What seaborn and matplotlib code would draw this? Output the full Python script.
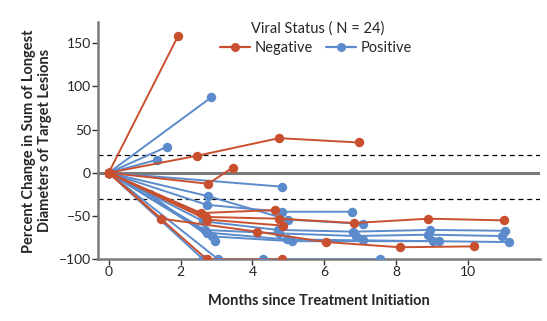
import matplotlib
matplotlib.use("Agg")
import matplotlib.pyplot as plt
from matplotlib.lines import Line2D
import numpy as np
import pandas as pd
import seaborn as sns

# Per-patient trajectories: months since treatment initiation and percent change
negative_months = [
    [0, 1.93],
    [0, 2.45, 4.74, 6.96],
    [0, 2.77, 3.45],
    [0, 1.46, 4.13, 6.04, 8.10, 10.18],
    [0, 2.73, 4.81],
    [0, 2.57, 4.63],
    [0, 2.71, 4.74, 6.83, 8.90, 11.01],
    [0, 2.73, 4.84],
]
negative_change = [
    [0, 158],
    [0, 19.6, 40, 35],
    [0, -12.7, 6],
    [0, -53, -68, -80, -86, -85],
    [0, -100, -100],
    [0, -46.5, -43],
    [0, -51, -53, -58, -53, -55],
    [0, -54, -61],
]

positive_months = [
    [0, 2.85],
    [0, 1.62],
    [0, 1.34],
    [0, 4.81],
    [0, 2.77, 4.98, 7.08],
    [0, 2.73, 4.81, 6.76],
    [0, 2.63, 4.72, 6.80, 8.95, 11.04],
    [0, 2.68, 4.75, 6.88, 8.88, 10.95],
    [0, 2.73, 4.95, 7.08, 9.02, 11.15],
    [0, 2.87, 5.09, 9.20],
    [0, 1.15, 2.96],
    [0, 3.05, 4.30, 7.54],
    [0, 2.63],
]
positive_change = [
    [0, 87],
    [0, 30],
    [0, 15],
    [0, -16],
    [0, -27, -54, -59],
    [0, -37, -45, -45],
    [0, -56, -66, -68, -66, -67],
    [0, -66, -70, -73, -71.5, -73],
    [0, -69, -77, -78, -79, -80],
    [0, -73.5, -79, -79],
    [0, -25, -79],
    [0, -100, -100, -100],
    [0, -100],
]

status_labels = ["Negative", "Positive"]
palette = {"Negative": "#c9502f", "Positive": "#5b8bcb"}

rows = []
pid = 0
for status, months, changes in [("Positive", positive_months, positive_change),
                                ("Negative", negative_months, negative_change)]:
    for m, c in zip(months, changes):
        for mi, ci in zip(m, c):
            rows.append({"patient": pid, "status": status, "month": mi, "change": ci})
        pid += 1
df = pd.DataFrame(rows)

sns.set_style("white")
plt.rcParams["font.family"] = ["Lato", "DejaVu Sans"]

fig = plt.figure(figsize=(5.47, 3.21), dpi=100)
ax = fig.add_axes([0.179, 0.192, 0.808, 0.739])

gray = "#7a7a7a"
ax.axhline(0, color=gray, lw=2.2, zorder=1)
ax.axhline(20, color="black", lw=0.9, ls=(0, (4, 3)), zorder=1)
ax.axhline(-30, color="black", lw=0.9, ls=(0, (4, 3)), zorder=1)

sns.lineplot(data=df, x="month", y="change", hue="status", units="patient",
             estimator=None, sort=False, palette=palette, marker="o",
             markersize=6.8, markeredgewidth=0, linewidth=1.4,
             legend=False, ax=ax, zorder=3)

ax.set_xlim(-0.3, 12.0)
ax.set_ylim(-100, 174)
ax.set_xticks([0, 2, 4, 6, 8, 10])
ax.set_yticks([-100, -50, 0, 50, 100, 150])
ax.set_yticklabels(["\u2212100", "\u221250", "0", "50", "100", "150"])

for side in ["top", "right"]:
    ax.spines[side].set_visible(False)
for side in ["left", "bottom"]:
    ax.spines[side].set_color(gray)
    ax.spines[side].set_linewidth(1.8)
ax.tick_params(axis="both", direction="out", length=4, width=1, color="#333333",
               labelsize=10, pad=1, left=True, bottom=True)

ax.set_xlabel("Months since Treatment Initiation", fontsize=10.5, fontweight="bold", labelpad=11)
ax.set_ylabel("Percent Change in Sum of Longest\nDiameters of Target Lesions",
              fontsize=10.5, fontweight="bold", labelpad=5)

# Legend: title drawn as its own text line, entries in one row below it
fig.text(317.5 / 547, 1 - 29 / 321, "Viral Status ( N = 24)", ha="center", va="center",
         fontsize=10.5)
handles = [Line2D([0], [0], color=palette[s], lw=1.6, marker="o", markersize=6.5,
                  markeredgewidth=0) for s in status_labels]
leg = fig.legend(handles, status_labels, ncol=2, loc="center",
                 bbox_to_anchor=(316 / 547, 1 - 48 / 321), frameon=False,
                 fontsize=10.5, handlelength=2.05, columnspacing=0.9,
                 handletextpad=0.35, borderpad=0.1)

fig.savefig("out.png", dpi=100)
